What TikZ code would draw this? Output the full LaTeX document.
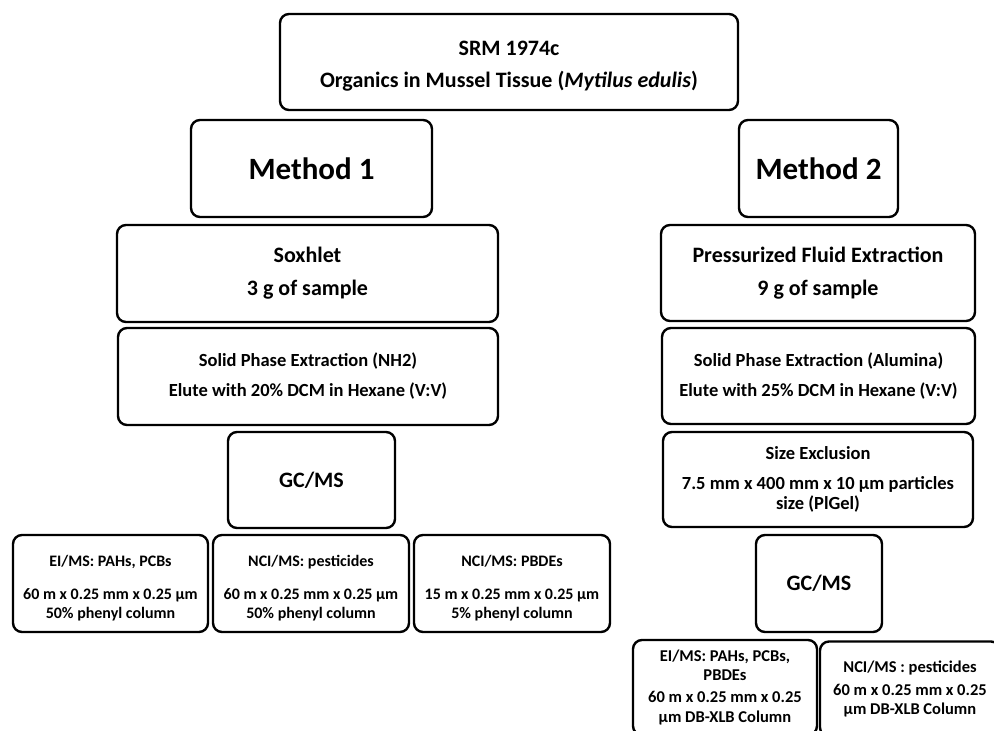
\documentclass[tikz,border=0pt]{standalone}
\usepackage{fontspec}
\setmainfont{Carlito}
\begin{document}
\begin{tikzpicture}[x=1pt,y=-1pt,
  box/.style={draw=black, line width=2.4pt, rounded corners=9pt, align=center,
    inner sep=0pt, font=\bfseries},
  txt/.style={align=center, inner sep=0pt},
  fA/.style={font=\bfseries\fontsize{22}{26}\selectfont},
  fM/.style={font=\bfseries\fontsize{31}{36}\selectfont},
  fB/.style={font=\bfseries\fontsize{18.5}{22}\selectfont},
  fS/.style={font=\bfseries\fontsize{16}{19}\selectfont},
  fR/.style={font=\bfseries\fontsize{16.5}{19.5}\selectfont}]
\useasboundingbox (0,0) rectangle (994,731);
\clip (0,0) rectangle (994,731);
\fill[white] (0,0) rectangle (994,731);

\node[box,minimum width=458pt,minimum height=96pt] (top) at (509,62) {};
\node[txt,fA] (toptext) at (509,66)
  {SRM 1974c\\[6pt]Organics in Mussel Tissue (\textit{Mytilus edulis})};

\node[box,fM,minimum width=241pt,minimum height=97pt] (m1) at (311.5,168.5) {Method 1};
\node[box,fM,minimum width=159pt,minimum height=97pt] (m2) at (818.5,168.5) {Method 2};

\node[box,fA,minimum width=381pt,minimum height=97pt] (sox) at (307.5,273.5)
  {Soxhlet\\[7pt]3 g of sample};
\node[box,fB,minimum width=380pt,minimum height=97pt] (spe1) at (308,376.5)
  {Solid Phase Extraction (NH2)\\[8pt]Elute with 20\% DCM in Hexane (V:V)};
\node[box,fA,minimum width=167pt,minimum height=96pt] (gc1) at (311.5,480) {GC/MS};

\node[box,minimum width=195pt,minimum height=97pt] (ei1) at (110.5,583.5) {};
\node[txt,fS] (ei1text) at (110.5,588)
  {EI/MS: PAHs, PCBs\\[14pt]60 m x 0.25 mm x 0.25 µm\\50\% phenyl column};
\node[box,minimum width=196pt,minimum height=97pt] (nci1) at (311,583.5) {};
\node[txt,fS] (nci1text) at (311,588)
  {NCI/MS: pesticides\\[14pt]60 m x 0.25 mm x 0.25 µm\\50\% phenyl column};
\node[box,minimum width=196pt,minimum height=97pt] (pbde1) at (512,583.5) {};
\node[txt,fS] (pbde1text) at (512,588)
  {NCI/MS: PBDEs\\[14pt]15 m x 0.25 mm x 0.25 µm\\5\% phenyl column};

\node[box,fA,minimum width=314pt,minimum height=96pt] (pfe) at (818,273)
  {Pressurized Fluid Extraction\\[7pt]9 g of sample};
\node[box,fB,minimum width=313pt,minimum height=96pt] (spe2) at (818.5,376)
  {Solid Phase Extraction (Alumina)\\[8pt]Elute with 25\% DCM in Hexane (V:V)};
\node[box,fB,minimum width=310pt,minimum height=95pt] (sec) at (818,479.5)
  {Size Exclusion\\[8pt]7.5 mm x 400 mm x 10 µm particles\\[-2pt]size (PlGel)};
\node[box,fA,minimum width=126pt,minimum height=97pt] (gc2) at (819,583.5) {GC/MS};

\node[box,fR,minimum width=184pt,minimum height=95pt] (ei2) at (725,687.5)
  {EI/MS: PAHs, PCBs,\\[-1pt]PBDEs\\[3pt]60 m x 0.25 mm x 0.25\\µm DB-XLB Column};
\node[box,fR,minimum width=180pt,minimum height=95pt] (nci2) at (910,689)
  {NCI/MS : pesticides\\[3.5pt]60 m x 0.25 mm x 0.25\\µm DB-XLB Column};
\end{tikzpicture}
\end{document}
